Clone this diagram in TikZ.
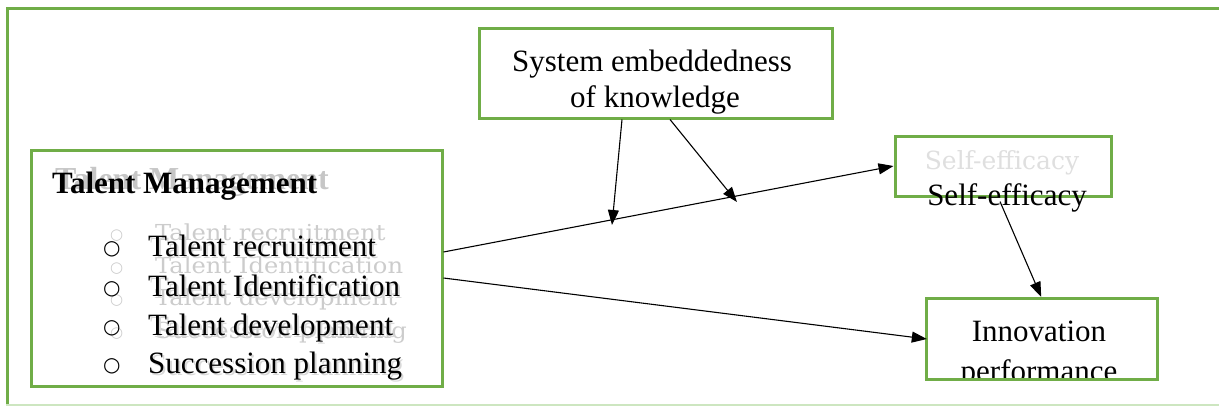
\documentclass[tikz,border=0pt]{standalone}
\usepackage{fontspec}
\setmainfont{Liberation Serif}
\newfontfamily\ghostfont{DejaVu Serif}
\newfontfamily\bulfont{DejaVu Sans}
\usetikzlibrary{arrows.meta}
\definecolor{frameGreen}{RGB}{112,173,71}
\definecolor{paleGreen}{RGB}{205,230,192}
\tikzset{
  box/.style={draw=frameGreen, line width=3pt, inner sep=0pt},
  lbl/.style={inner sep=0pt, font=\fontsize{31}{37}\selectfont},
  shade/.style={inner sep=0pt, text=gray!30, font=\fontsize{31}{37}\selectfont},
  ghost/.style={inner sep=0pt, text=gray!40, font=\ghostfont\fontsize{22}{26}\selectfont},
  bul/.style={inner sep=0pt, font=\bulfont\fontsize{20}{24}\selectfont},
  gbul/.style={inner sep=0pt, text=gray!40, font=\bulfont\fontsize{15}{18}\selectfont},
  arr/.style={-{Triangle[length=15pt,width=11pt]}, line width=1.1pt},
}
\begin{document}
\begin{tikzpicture}[x=1pt,y=-1pt]
\useasboundingbox (0,0) rectangle (1219,407);
% outer frame
\draw[frameGreen, line width=3pt] (1230,8) -- (7,8) -- (7,406);
\draw[paleGreen, line width=2pt] (5.5,405) -- (1230,405);

% boxes
\node[box, minimum width=353pt, minimum height=90pt] (sys) at (655.5,73) {};
\node[box, minimum width=411pt, minimum height=236pt] (tm) at (236.5,268) {};
\node[box, minimum width=216pt, minimum height=60pt] (se) at (1003,166) {};
\node[inner sep=0pt, minimum width=230pt, minimum height=80pt] (ip) at (1042,339) {};

% system text
\node[lbl, anchor=base] (sys1) at (652,71) {System embeddedness};
\node[lbl, anchor=base] (sys2) at (655,107) {of knowledge};

% talent management ghost text
\node[inner sep=0pt, text=gray!45, anchor=base west, font=\bfseries\fontsize{32}{36}\selectfont] (gtm) at (55,189) {Talent Management};
\node[gbul, anchor=base west] (gb1) at (110,239) {○};
\node[gbul, anchor=base west] (gb2) at (110,272) {○};
\node[gbul, anchor=base west] (gb3) at (110,304) {○};
\node[gbul, anchor=base west] (gb4) at (110,337) {○};
\node[ghost, anchor=base west] (gt1) at (155,240) {\scalebox{1.1}[1]{Talent recruitment}};
\node[ghost, anchor=base west] (gt2) at (155,273) {\scalebox{1.1}[1]{Talent Identification}};
\node[ghost, anchor=base west] (gt3) at (155,305) {\scalebox{1.1}[1]{Talent development}};
\node[ghost, anchor=base west] (gt4) at (155,338) {\scalebox{1.1}[1]{Succession planning}};

% soft shadow of list
\node[shade, anchor=base west] (s1) at (150,258) {Talent recruitment};
\node[shade, anchor=base west] (s2) at (150,298) {Talent Identification};
\node[shade, anchor=base west] (s3) at (150,337) {Talent development};
\node[shade, anchor=base west] (s4) at (150,375) {Succession planning};

% talent management black text
\node[inner sep=0pt, anchor=base west, font=\bfseries\fontsize{31}{36}\selectfont] (ttm) at (52,193) {Talent Management};
\node[bul, anchor=base west] (b1) at (103,254) {○};
\node[bul, anchor=base west] (b2) at (103,294) {○};
\node[bul, anchor=base west] (b3) at (103,333) {○};
\node[bul, anchor=base west] (b4) at (103,371) {○};
\node[lbl, anchor=base west] (t1) at (148,256) {Talent recruitment};
\node[lbl, anchor=base west] (t2) at (148,296) {Talent Identification};
\node[lbl, anchor=base west] (t3) at (148,335) {Talent development};
\node[lbl, anchor=base west] (t4) at (148,373) {Succession planning};

% self-efficacy texts
\node[inner sep=0pt, text=gray!25, anchor=base, font=\ghostfont\fontsize{25}{28}\selectfont] (gse) at (1002,169) {Self-efficacy};
\node[lbl, anchor=base] (tse) at (1007,205) {Self-efficacy};

% innovation performance texts (clipped by box)
\begin{scope}
  \clip (ip.south west) rectangle (ip.north east);
  \node[lbl, anchor=base] (tip1) at (1039,341) {Innovation};
  \node[lbl, anchor=base] (tip2) at (1039,381) {performance};
\end{scope}
\draw[frameGreen, line width=3pt] (ip.south west) rectangle (ip.north east);

% points on the main path where moderators meet it
\coordinate (m1) at (612,225);
\coordinate (m2) at (737,202);

% arrows
\draw[arr] ([yshift=16pt]tm.east) -- (se.west);
\draw[arr] ([yshift=-10pt]tm.east) -- (ip.west);
\draw[arr] ([xshift=-33.5pt]sys.south) -- (m1);
\draw[arr] ([xshift=14.5pt]sys.south) -- (m2);
\draw[arr, shorten >=2pt] ([xshift=-3pt,yshift=-4pt]se.south) -- (ip.north);
\end{tikzpicture}
\end{document}
